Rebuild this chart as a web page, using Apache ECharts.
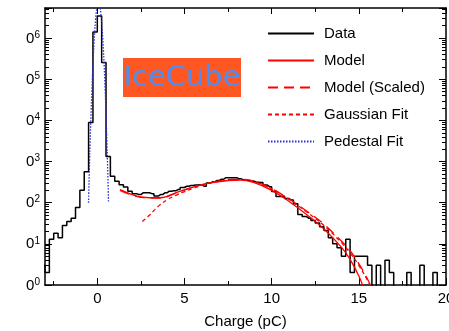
<!DOCTYPE html>
<html>
<head>
<meta charset="utf-8">
<script src="https://cdn.jsdelivr.net/npm/echarts@6/dist/echarts.min.js"></script>
<style>
  html, body { margin: 0; padding: 0; background: #fff; }
  #chart { width: 449px; height: 331px; }
</style>
</head>
<body>
<div id="chart"></div>
<script>
// Histogram of charge (pC): bins of 0.25 pC, first bin starts at -3.25
const binStart = -3.25;
const binWidth = 0.25;
const dataCounts = [
  3, 2, 13, 18, 14, 28, 35, 42, 76, 200, 562, 8900,
  1410000, 3470000, 257000, 1320, 437, 331, 275, 240, 191, 166,
  158, 174, 174, 166, 145, 158, 174, 191, 195, 209, 234, 251,
  263, 269, 275, 251, 302, 324, 347, 372, 407, 407, 407, 380,
  363, 347, 331, 316, 309, 269, 245, 186, 141, 141, 126, 117,
  95, 52, 46, 42, 37, 32, 26, 21, 14, 10, 8, 5,
  13, 2, 5, 5, 5, 3, 0, 3, 0, 4, 2, 0,
  0, 0, 2, 0, 0, 3, 0, 0, 2, 0, 0
];

// Model curve (charge, counts)
const modelX = [1.3, 2.0, 2.5, 3.0, 3.6, 4.5, 5.5, 6.5, 7.5, 8.2, 9.0, 10.0, 11.0, 12.0, 13.0, 14.0, 14.5, 15.0, 15.3];
const modelY = [209, 158, 138, 132, 132, 174, 240, 302, 347, 355, 309, 200, 107, 52, 23, 8.3, 4.2, 1.66, 0.8];

// Scaled model curve
const scaledX = [1.3, 2.0, 2.5, 3.0, 3.6, 4.5, 5.5, 6.5, 7.5, 8.2, 9.0, 10.0, 11.0, 12.0, 13.0, 14.0, 14.5, 15.0, 15.5, 15.7];
const scaledY = [200, 151, 135, 129, 129, 170, 240, 309, 363, 372, 331, 219, 123, 63, 30, 11.7, 6.8, 3.3, 1.4, 0.9];

// Gaussian fit of the single-photoelectron peak
const gaussX = [2.58, 3.0, 3.3, 3.6, 4.0, 4.5, 5.0, 5.5, 6.0, 6.5, 7.0, 7.5, 8.0, 8.5, 9.0, 10.0, 11.0, 12.0, 13.0, 14.0, 14.5, 15.0, 15.5, 15.7];
const gaussY = [35, 50, 68, 89, 117, 151, 186, 224, 263, 302, 331, 355, 363, 355, 324, 219, 120, 60, 28, 10.7, 6, 3, 1.3, 0.9];

// Gaussian fit of the pedestal
const pedX = [-0.505, -0.43, -0.33, -0.23, -0.13, -0.03, 0.07, 0.17, 0.27, 0.37, 0.47, 0.57, 0.645];
const pedY = [100, 1580, 33000, 350000, 1900000, 5300000, 7400000, 5300000, 1900000, 350000, 33000, 1580, 100];

const xLabelValues = [0, 5, 10, 15, 20];
const xMajorTickValues = [0, 5, 10, 15, 20];
const xMinorTickValues = [-2.5, 2.5, 7.5, 12.5, 17.5];
const seriesNames = ['Data', 'Model', 'Model (Scaled)', 'Gaussian Fit', 'Pedestal Fit'];

const FONT = '"Liberation Sans", Arial, Helvetica, sans-serif';
const LOG_FLOOR = 0.1; // empty bins drop below the axis

const histPoints = dataCounts.map((c, i) => [binStart + binWidth * (i + 0.5), Math.max(c, LOG_FLOOR)]);
const pairs = (xs, ys) => xs.map((x, i) => [x, ys[i]]);

function lineOf(show) {
  return { show: show, onZero: false, lineStyle: { color: '#000', width: 1.5 } };
}

function xAxisDef(position, ticks, len, withLine, withLabels) {
  return {
    type: 'value', min: -3, max: 20, position: position,
    axisLine: lineOf(withLine),
    axisTick: { show: true, inside: true, length: len, customValues: ticks, lineStyle: { color: '#000', width: 1 } },
    axisLabel: withLabels ? {
      show: true, customValues: xLabelValues, color: '#000', fontSize: 15, fontFamily: FONT,
      margin: 6, alignMaxLabel: 'center', alignMinLabel: 'center'
    } : { show: false },
    splitLine: { show: false }
  };
}

function yAxisDef(position, withLabels) {
  return {
    type: 'log', logBase: 10, min: 1, max: 5.4e6, splitNumber: 7, position: position,
    axisLine: lineOf(true),
    axisTick: { show: true, inside: true, length: 7, lineStyle: { color: '#000', width: 1 } },
    minorTick: { show: true, splitNumber: 9, length: 4, lineStyle: { color: '#000', width: 1 } },
    axisLabel: withLabels ? {
      show: true, margin: 5, showMaxLabel: false,
      formatter: v => '{b|0}{s|' + Math.round(Math.log10(v)) + '}',
      rich: {
        b: { fontSize: 15, fontFamily: FONT, color: '#000', lineHeight: 16, verticalAlign: 'bottom' },
        s: { fontSize: 10, fontFamily: FONT, color: '#000', lineHeight: 10, verticalAlign: 'top' }
      }
    } : { show: false },
    splitLine: { show: false }
  };
}

const chart = echarts.init(document.getElementById('chart'), null, { renderer: 'canvas' });
chart.setOption({
  animation: false,
  backgroundColor: '#fff',
  grid: { left: 45, right: 3, top: 8, bottom: 46, containLabel: false, outerBoundsMode: 'none' },
  xAxis: [
    Object.assign(xAxisDef('bottom', xMajorTickValues, 7, true, true), {
      name: 'Charge (pC)', nameLocation: 'middle', nameGap: 29,
      nameTextStyle: { fontSize: 15, fontFamily: FONT, color: '#000' }
    }),
    xAxisDef('bottom', xMinorTickValues, 4, false, false),
    xAxisDef('top', xMajorTickValues, 6, true, false),
    xAxisDef('top', xMinorTickValues, 4, false, false)
  ],
  yAxis: [yAxisDef('left', true), yAxisDef('right', false)],
  legend: {
    orient: 'vertical', left: 262, top: 21,
    itemWidth: 46, itemHeight: 14, itemGap: 12,
    itemStyle: { opacity: 0 },
    textStyle: { fontSize: 15, fontFamily: FONT, color: '#000', padding: [0, 0, 0, 5] },
    data: seriesNames
  },
  graphic: [{
    type: 'group', left: 123, top: 58,
    children: [
      { type: 'rect', shape: { x: 0, y: 0, width: 118, height: 39 }, style: { fill: '#ff5722' } },
      { type: 'text', x: 59, y: 20, style: {
          text: 'IceCube', fill: '#4f8ef0', font: '29px "DejaVu Sans", sans-serif',
          align: 'center', verticalAlign: 'middle' } }
    ]
  }],
  series: [
    { name: seriesNames[0], type: 'line', step: 'middle', data: histPoints, symbol: 'none',
      lineStyle: { color: '#000', width: 1.5 }, itemStyle: { color: '#000' } },
    { name: seriesNames[1], type: 'line', smooth: 0.4, data: pairs(modelX, modelY), symbol: 'none',
      lineStyle: { color: '#ff0000', width: 1.3 }, itemStyle: { color: '#ff0000' } },
    { name: seriesNames[2], type: 'line', smooth: 0.4, data: pairs(scaledX, scaledY), symbol: 'none',
      lineStyle: { color: '#ff0000', width: 1.3, type: [10, 6] }, itemStyle: { color: '#ff0000' } },
    { name: seriesNames[3], type: 'line', smooth: 0.4, data: pairs(gaussX, gaussY), symbol: 'none',
      lineStyle: { color: '#ff0000', width: 1.3, type: [4, 3] }, itemStyle: { color: '#ff0000' } },
    { name: seriesNames[4], type: 'line', smooth: 0.3, data: pairs(pedX, pedY), symbol: 'none',
      lineStyle: { color: '#2b2be0', width: 1.3, type: [1.5, 1.5] }, itemStyle: { color: '#2b2be0' } }
  ]
});
</script>
</body>
</html>
